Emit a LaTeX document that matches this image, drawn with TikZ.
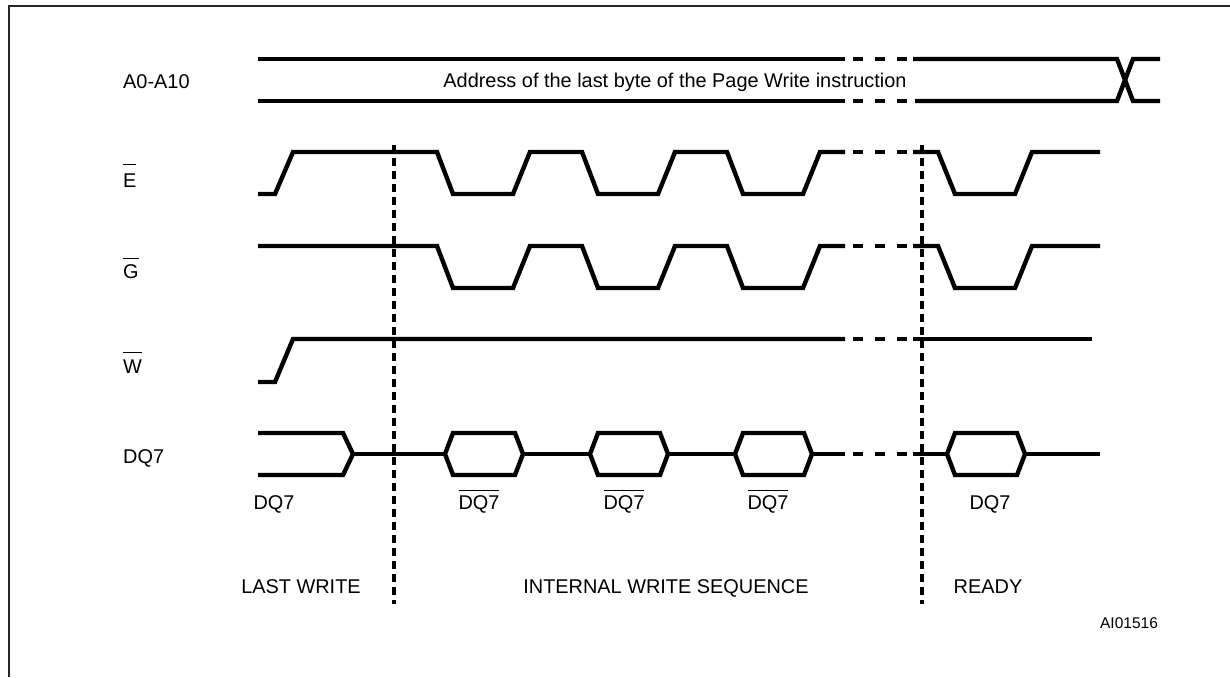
\documentclass[tikz,border=0pt]{standalone}
\usepackage{fontspec}
\setmainfont{Liberation Sans}
\newcommand{\ovl}[2]{\vbox{\hrule height 1.4pt\kern #1\hbox{#2}}}
\begin{document}
\begin{tikzpicture}[x=1pt,y=-1pt,
  sig/.style={line width=4.4pt,line join=miter},
  gapdash/.style={line width=4.4pt,dash pattern=on 10pt off 12pt},
  marker/.style={line width=3.2pt,dash pattern=on 8pt off 5pt},
  frame/.style={line width=2.5pt,draw=black!85},
  lbl/.style={inner sep=0pt,font=\fontsize{19.9}{22}\selectfont},
  small/.style={inner sep=0pt,font=\fontsize{15.5}{18}\selectfont}]
\useasboundingbox (0,0) rectangle (1230,677);
% frame
\draw[frame] (9,677) -- (9,6) -- (1232,6);

% signal names
\node[lbl,anchor=base west] (nA) at (123,88) {A0-A10};
\node[lbl,anchor=base west] (nE) at (123,187) {\ovl{8pt}{E}};
\node[lbl,anchor=base west] (nG) at (123,278) {\ovl{5pt}{G}};
\node[lbl,anchor=base west] (nW) at (123,373) {\ovl{6pt}{W}};
\node[lbl,anchor=base west] (nD) at (123,463) {DQ7};

% A0-A10 bus
\draw[sig] (258,59) -- (845,59);
\draw[gapdash] (853,59) -- (907,59);
\draw[sig] (913,59) -- (1117,59) -- (1133,101) -- (1160,101);
\draw[sig] (258,101) -- (845,101);
\draw[gapdash] (853,101) -- (907,101);
\draw[sig] (915,101) -- (1117,101) -- (1133,59) -- (1160,59);
\node[lbl,anchor=base] (addr) at (675,87) {Address of the last byte of the Page Write instruction};

% E
\draw[sig] (258,194) -- (275,194) -- (293,152) -- (437,152) -- (453,194) -- (513,194)
  -- (530,152) -- (582,152) -- (598,194) -- (658,194) -- (675,152) -- (727,152)
  -- (743,194) -- (803,194) -- (820,152) -- (845,152);
\draw[gapdash] (853,152) -- (907,152);
\draw[sig] (913,152) -- (938,152) -- (955,194) -- (1015,194) -- (1032,152) -- (1100,152);

% G
\draw[sig] (258,246) -- (437,246) -- (453,288) -- (513,288)
  -- (530,246) -- (582,246) -- (598,288) -- (658,288) -- (675,246) -- (727,246)
  -- (743,288) -- (803,288) -- (820,246) -- (845,246);
\draw[gapdash] (853,246) -- (907,246);
\draw[sig] (913,246) -- (938,246) -- (955,288) -- (1015,288) -- (1032,246) -- (1100,246);

% W
\draw[sig] (258,382) -- (275,382) -- (293,339) -- (845,339);
\draw[gapdash] (853,339) -- (907,339);
\draw[sig] (913,339) -- (1092,339);

% DQ7
\draw[sig] (258,433) -- (343,433) -- (353,454) -- (343,475) -- (258,475);
\draw[sig] (353,454) -- (445,454);
\foreach \s/\e in {445/523, 590/668, 735/812, 947/1025}{
  \draw[sig] (\s,454) -- (\s+8,433) -- (\e-8,433) -- (\e,454) -- (\e-8,475) -- (\s+8,475) -- cycle;
}
\draw[sig] (523,454) -- (590,454);
\draw[sig] (668,454) -- (735,454);
\draw[sig] (812,454) -- (845,454);
\draw[gapdash] (853,454) -- (907,454);
\draw[sig] (913,454) -- (947,454);
\draw[sig] (1025,454) -- (1100,454);

% DQ7 value labels
\node[lbl,anchor=base] (v1) at (274,509) {DQ7};
\node[lbl,anchor=base] (v2) at (479,509) {\ovl{4pt}{DQ7}};
\node[lbl,anchor=base] (v3) at (624,509) {\ovl{4pt}{DQ7}};
\node[lbl,anchor=base] (v4) at (768,509) {\ovl{4pt}{DQ7}};
\node[lbl,anchor=base] (v5) at (990,509) {DQ7};

% phase markers
\draw[marker] (394,145) -- (394,604);
\draw[marker] (922,145) -- (922,604);

% phase labels
\node[lbl,anchor=base] (p1) at (301,593) {LAST WRITE};
\node[lbl,anchor=base] (p2) at (666,593) {INTERNAL WRITE SEQUENCE};
\node[lbl,anchor=base] (p3) at (988,593) {READY};
\node[small,anchor=base] (id) at (1129,628) {AI01516};
\end{tikzpicture}
\end{document}
